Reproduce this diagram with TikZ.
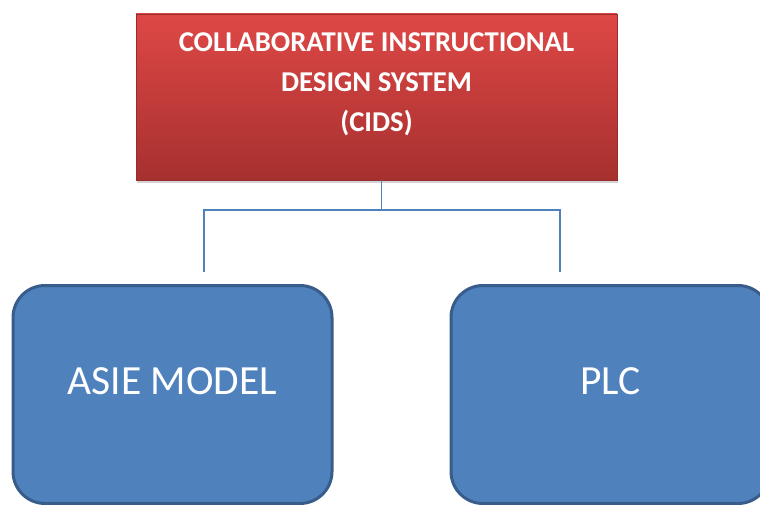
\documentclass[tikz,border=0pt]{standalone}
\usepackage{fontspec}
\setmainfont{Carlito}
\usepackage{tikz}
\usetikzlibrary{arrows,shadows}

\definecolor{cidsTop}{RGB}{222,72,70}
\definecolor{cidsBot}{RGB}{166,48,47}
\definecolor{cidsLine}{RGB}{150,45,44}
\definecolor{leafFill}{RGB}{79,129,189}
\definecolor{leafLine}{RGB}{56,93,138}
\definecolor{connLine}{RGB}{79,129,189}

\begin{document}
\begin{tikzpicture}[-,x=1pt,y=-1pt,thick,node distance=438pt,
  title node/.style={rectangle,draw=cidsLine,line width=0.8pt,top color=cidsTop,bottom color=cidsBot,
    text=white,align=center,font=\fontsize{28.7}{40}\selectfont\bfseries,
    minimum width=481pt,minimum height=166pt,text depth=30pt,
    drop shadow={opacity=0.35,shadow xshift=1pt,shadow yshift=-3pt}},
  leaf node/.style={rectangle,rounded corners=32pt,draw=leafLine,line width=3pt,fill=leafFill,
    text=white,font=\fontsize{41.5}{46}\selectfont,
    minimum width=319pt,minimum height=218pt,text depth=27pt},
  conn/.style={draw=connLine,line width=1.3pt}]
  \useasboundingbox (0,0) rectangle (760,505);
  \node[title node] (cids) at (376.5,97) {COLLABORATIVE INSTRUCTIONAL\\DESIGN SYSTEM\\(CIDS)};
  \node[leaf node]  (asie) at (172.5,394.5) {ASIE MODEL};
  \node[leaf node]  (plc)  [right of=asie] {PLC};

  \coordinate (j)  at (381.5,210);
  \coordinate (ja) at (204,272);
  \coordinate (jp) at (560,272);

  \draw[conn] (cids.south -| j) -- (j);
  \draw[conn] (j) -| (ja);
  \draw[conn] (j) -| (jp);
\end{tikzpicture}
\end{document}
